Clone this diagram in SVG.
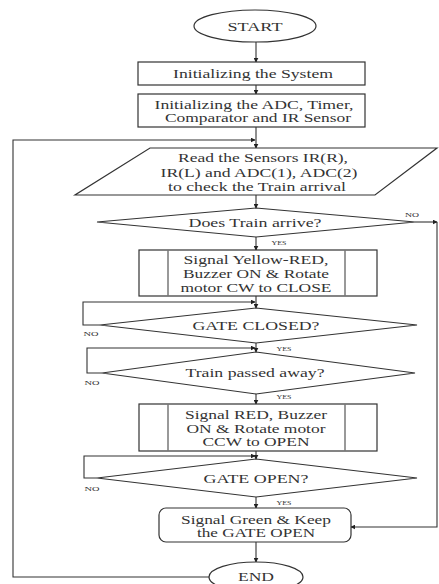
<svg xmlns="http://www.w3.org/2000/svg" width="439" height="584" viewBox="0 0 439 584">
<defs>
<marker id="ah" viewBox="0 0 8 8" refX="7" refY="4" markerWidth="5" markerHeight="5" orient="auto" markerUnits="userSpaceOnUse">
<path d="M0,0 L8,4 L0,8 z" fill="#222"/>
</marker>
<style>
.s{fill:#fff;stroke:#333;stroke-width:1.2}
.in{stroke:#777;stroke-width:1.5}
.c{fill:none;stroke:#333;stroke-width:1.1}
.a{marker-end:url(#ah)}
.t{font-family:"Liberation Serif","Times New Roman",serif;font-size:13px;fill:#333;text-anchor:middle}
.l{font-family:"Liberation Serif","Times New Roman",serif;font-size:7px;fill:#333;text-anchor:middle}
</style>
</defs>
<rect width="439" height="584" fill="#fff"/>
<g id="connectors">
<line class="c a" x1="256" y1="42" x2="256" y2="62"/>
<line class="c a" x1="256" y1="85" x2="256" y2="94"/>
<line class="c a" x1="256" y1="127" x2="256" y2="148"/>
<polyline class="c a" points="210,577 13,577 13,140 255,140"/>
<line class="c a" x1="256" y1="195" x2="256" y2="208"/>
<line class="c a" x1="256" y1="237" x2="256" y2="250"/>
<line class="c a" x1="415" y1="222" x2="437" y2="222"/>
<polyline class="c a" points="437,222 437,527 351,527"/>
<line class="c a" x1="256" y1="296" x2="256" y2="308"/>
<polyline class="c a" points="100,325 83,325 83,302 255,302"/>
<line class="c a" x1="256" y1="343" x2="256" y2="352"/>
<polyline class="c a" points="102,373 87,373 87,348 255,348"/>
<line class="c a" x1="256" y1="394" x2="256" y2="404"/>
<line class="c a" x1="256" y1="451" x2="256" y2="459"/>
<polyline class="c a" points="97,478 84,478 84,456 255,456"/>
<line class="c a" x1="256" y1="497" x2="256" y2="508"/>
<line class="c a" x1="256" y1="542" x2="256" y2="562"/>
<text class="l" x="412" y="217" textLength="14" lengthAdjust="spacingAndGlyphs">NO</text>
<text class="l" x="279" y="245" textLength="15" lengthAdjust="spacingAndGlyphs">YES</text>
<text class="l" x="91" y="336" textLength="15" lengthAdjust="spacingAndGlyphs">NO</text>
<text class="l" x="284" y="351" textLength="15" lengthAdjust="spacingAndGlyphs">YES</text>
<text class="l" x="92" y="385" textLength="15" lengthAdjust="spacingAndGlyphs">NO</text>
<text class="l" x="284" y="399" textLength="15" lengthAdjust="spacingAndGlyphs">YES</text>
<text class="l" x="92" y="491" textLength="15" lengthAdjust="spacingAndGlyphs">NO</text>
<text class="l" x="284" y="505" textLength="15" lengthAdjust="spacingAndGlyphs">YES</text>
</g>
<g id="start">
<ellipse class="s" cx="255" cy="26" rx="61" ry="16"/>
<text class="t" x="255" y="30.5" textLength="55" lengthAdjust="spacingAndGlyphs">START</text>
</g>
<g id="init-system">
<rect class="s" x="138" y="62" width="227" height="23"/>
<text class="t" x="253" y="77.5" textLength="160" lengthAdjust="spacingAndGlyphs">Initializing the System</text>
</g>
<g id="init-adc">
<rect class="s" x="138" y="94" width="227" height="33"/>
<text class="t" x="254" y="108.5" textLength="199" lengthAdjust="spacingAndGlyphs">Initializing the ADC, Timer,</text>
<text class="t" x="258" y="122" textLength="186" lengthAdjust="spacingAndGlyphs">Comparator and IR Sensor</text>
</g>
<g id="read-sensors">
<polygon class="s" points="150,148 437,148 375,195 75,195"/>
<text class="t" x="263" y="162" textLength="170" lengthAdjust="spacingAndGlyphs">Read the Sensors IR(R),</text>
<text class="t" x="259" y="176.5" textLength="197" lengthAdjust="spacingAndGlyphs">IR(L) and ADC(1), ADC(2)</text>
<text class="t" x="257" y="191" textLength="178" lengthAdjust="spacingAndGlyphs">to check the Train arrival</text>
</g>
<g id="train-arrive">
<polygon class="s" points="256,208 415,222 256,237 97,222"/>
<text class="t" x="255" y="226.5" textLength="133" lengthAdjust="spacingAndGlyphs">Does Train arrive?</text>
</g>
<g id="signal-yellow">
<rect class="s" x="139" y="250" width="238" height="46"/>
<line class="in" x1="168" y1="250" x2="168" y2="296"/>
<line class="in" x1="345" y1="250" x2="345" y2="296"/>
<text class="t" x="256" y="264" textLength="145" lengthAdjust="spacingAndGlyphs">Signal Yellow-RED,</text>
<text class="t" x="256" y="278" textLength="146" lengthAdjust="spacingAndGlyphs">Buzzer ON &amp; Rotate</text>
<text class="t" x="256" y="292" textLength="151" lengthAdjust="spacingAndGlyphs">motor CW to CLOSE</text>
</g>
<g id="gate-closed">
<polygon class="s" points="256,308 417,325 256,343 100,325"/>
<text class="t" x="256" y="330" textLength="127" lengthAdjust="spacingAndGlyphs">GATE CLOSED?</text>
</g>
<g id="train-passed">
<polygon class="s" points="256,352 415,373 256,394 102,373"/>
<text class="t" x="255" y="377" textLength="139" lengthAdjust="spacingAndGlyphs">Train passed away?</text>
</g>
<g id="signal-red">
<rect class="s" x="139" y="404" width="238" height="47"/>
<line class="in" x1="168" y1="404" x2="168" y2="451"/>
<line class="in" x1="345" y1="404" x2="345" y2="451"/>
<text class="t" x="256" y="419" textLength="142" lengthAdjust="spacingAndGlyphs">Signal RED, Buzzer</text>
<text class="t" x="256" y="432.5" textLength="139" lengthAdjust="spacingAndGlyphs">ON &amp; Rotate motor</text>
<text class="t" x="256" y="446" textLength="107" lengthAdjust="spacingAndGlyphs">CCW to OPEN</text>
</g>
<g id="gate-open">
<polygon class="s" points="256,459 417,478 256,497 97,478"/>
<text class="t" x="256" y="483" textLength="105" lengthAdjust="spacingAndGlyphs">GATE OPEN?</text>
</g>
<g id="signal-green">
<rect class="s" x="159" y="508" width="192" height="34" rx="7"/>
<text class="t" x="256" y="523.5" textLength="150" lengthAdjust="spacingAndGlyphs">Signal Green &amp; Keep</text>
<text class="t" x="256" y="537" textLength="118" lengthAdjust="spacingAndGlyphs">the GATE OPEN</text>
</g>
<g id="end">
<ellipse class="s" cx="256" cy="577" rx="47" ry="15"/>
<text class="t" x="256" y="581" textLength="36" lengthAdjust="spacingAndGlyphs">END</text>
</g>
</svg>
